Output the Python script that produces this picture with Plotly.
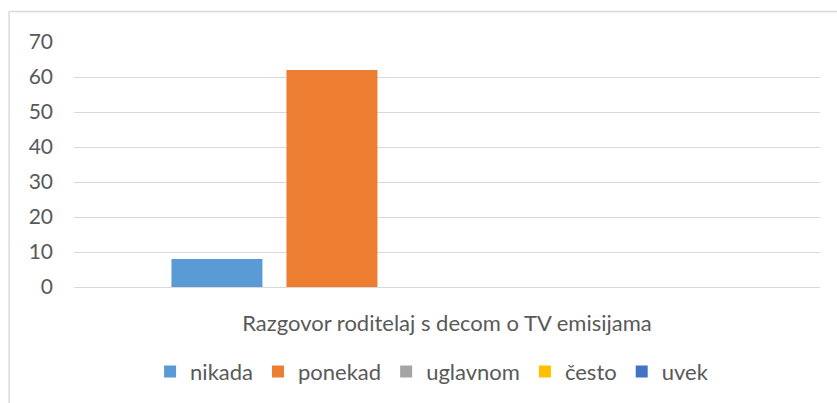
import plotly.graph_objects as go

category = ["Razgovor roditelaj s decom o TV emisijama"]
series_names = ["nikada", "ponekad", "uglavnom", "često", "uvek"]
series_values = [8, 62, 0, 0, 0]
colours = ["#5B9BD5", "#ED7D31", "#A5A5A5", "#FFC000", "#4472C4"]
y_ticks = [0, 10, 20, 30, 40, 50, 60, 70]

FONT = "Lato"
TEXT_COLOUR = "#595959"
GRID_COLOUR = "#D9D9D9"

fig = go.Figure()
for name, val, col in zip(series_names, series_values, colours):
    fig.add_trace(go.Bar(x=category, y=[val], name=name, marker={"color": col, "line": {"width": 0}}))

# outer chart border: only its top and left edges fall inside the frame
border = {"type": "line", "xref": "paper", "yref": "paper",
          "line": {"color": GRID_COLOUR, "width": 1.5}, "layer": "below"}

fig.update_layout(
    width=837,
    height=403,
    margin={"l": 74, "r": 17, "t": 42, "b": 115},
    paper_bgcolor="white",
    plot_bgcolor="white",
    barmode="group",
    bargap=0.229,
    bargroupgap=0.209,
    font={"family": FONT, "size": 22, "color": TEXT_COLOUR},
    legend={
        "orientation": "h",
        "x": 0.48,
        "xanchor": "center",
        "y": -0.34,
        "yanchor": "middle",
        "font": {"size": 22, "color": TEXT_COLOUR},
        "itemwidth": 30,
        "traceorder": "normal",
    },
    shapes=[
        dict(border, x0=-0.087, x1=1.05, y0=1.125, y1=1.125),
        dict(border, x0=-0.087, x1=-0.087, y0=-0.5, y1=1.125),
    ],
)
fig.update_yaxes(
    range=[0, 70],
    tickvals=y_ticks,
    showgrid=True,
    gridcolor=GRID_COLOUR,
    gridwidth=1.3,
    zeroline=False,
    showline=False,
    ticks="",
    ticklabelstandoff=20,
    tickfont={"size": 21, "color": TEXT_COLOUR},
)
fig.update_xaxes(
    showline=True,
    linecolor=GRID_COLOUR,
    linewidth=1.3,
    ticks="",
    ticklabelstandoff=16,
    tickfont={"size": 22, "color": TEXT_COLOUR},
)

fig.write_html("out.html", config={"displayModeBar": False},
               post_script="document.body.style.margin='0';document.body.style.overflow='hidden';")
